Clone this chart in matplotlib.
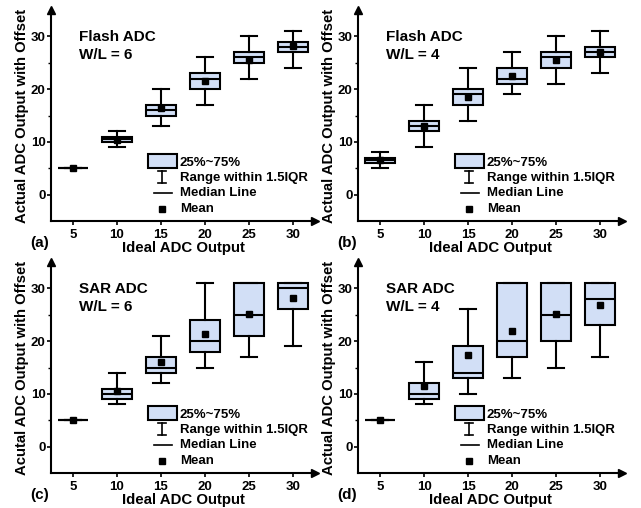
import matplotlib
matplotlib.use("Agg")
import matplotlib.pyplot as plt
from matplotlib.patches import Rectangle
from matplotlib.lines import Line2D

plt.rcParams['font.family'] = ['Liberation Sans', 'DejaVu Sans']
plt.rcParams['font.weight'] = 'bold'

positions = [5, 10, 15, 20, 25, 30]
xtick_labels = ['5', '10', '15', '20', '25', '30']
yticks = [0, 10, 20, 30]

# Panel (a) Flash ADC, W/L = 6
a_whislo = [5, 9, 13, 17, 22, 24]
a_q1 = [5, 10, 15, 20, 25, 27]
a_med = [5, 10.5, 16, 22, 26, 28]
a_q3 = [5, 11, 17, 23, 27, 29]
a_whishi = [5, 12, 20, 26, 30, 31]
a_mean = [5.05, 10.4, 16.4, 21.6, 25.5, 28.2]

# Panel (b) Flash ADC, W/L = 4
b_whislo = [5, 9, 14, 19, 21, 23]
b_q1 = [6, 12, 17, 21, 24, 26]
b_med = [6.5, 13, 19, 22, 26, 27]
b_q3 = [7, 14, 20, 24, 27, 28]
b_whishi = [8, 17, 24, 27, 30, 31]
b_mean = [6.5, 13, 18.6, 22.5, 25.5, 27.1]

# Panel (c) SAR ADC, W/L = 6
c_whislo = [5, 8, 12, 15, 17, 19]
c_q1 = [5, 9, 14, 18, 21, 26]
c_med = [5, 10, 15, 20, 25, 30]
c_q3 = [5, 11, 17, 24, 31, 31]
c_whishi = [5, 14, 21, 31, 31, 31]
c_mean = [5.05, 10.5, 16.1, 21.4, 25.1, 28.2]

# Panel (d) SAR ADC, W/L = 4
d_whislo = [5, 8, 10, 13, 15, 17]
d_q1 = [5, 9, 13, 17, 20, 23]
d_med = [5, 10, 14, 20, 25, 28]
d_q3 = [5, 12, 19, 31, 31, 31]
d_whishi = [5, 16, 26, 31, 31, 31]
d_mean = [5.05, 11.4, 17.4, 22, 25.2, 26.9]

titles = ["Flash ADC\nW/L = 6", "Flash ADC\nW/L = 4", "SAR ADC\nW/L = 6", "SAR ADC\nW/L = 4"]
ylabels = ["Actual ADC Output with Offset", "Actual ADC Output with Offset",
           "Acutal ADC Output with Offset", "Actual ADC Output with Offset"]
panel_tags = ["(a)", "(b)", "(c)", "(d)"]
xlabel = "Ideal ADC Output"
legend_labels = ["25%~75%", "Range within 1.5IQR", "Median Line", "Mean"]

panels = [
    (a_whislo, a_q1, a_med, a_q3, a_whishi, a_mean),
    (b_whislo, b_q1, b_med, b_q3, b_whishi, b_mean),
    (c_whislo, c_q1, c_med, c_q3, c_whishi, c_mean),
    (d_whislo, d_q1, d_med, d_q3, d_whishi, d_mean),
]

W, H = 641, 508
fig = plt.figure(figsize=(W / 100, H / 100), dpi=100)

FILL = '#d2dff6'
LW = 1.5

# axes rectangles in pixels: left, bottom(from top), width, height
ax_px = [(51, 221), (358, 221), (51, 473), (358, 473)]
aw, ah = 264, 211

for i, (whislo, q1, med, q3, whishi, mean) in enumerate(panels):
    left, bottom_top = ax_px[i]
    ax = fig.add_axes([left / W, (H - bottom_top) / H, aw / W, ah / H])
    stats = []
    for j in range(len(positions)):
        stats.append(dict(whislo=whislo[j], q1=q1[j], med=med[j], q3=q3[j],
                          whishi=whishi[j], mean=mean[j]))
    ax.bxp(stats, positions=positions, widths=3.3, capwidths=1.8,
           showmeans=True, showfliers=False, patch_artist=True,
           boxprops=dict(facecolor=FILL, edgecolor='black', linewidth=LW),
           whiskerprops=dict(color='black', linewidth=LW),
           capprops=dict(color='black', linewidth=LW),
           medianprops=dict(color='black', linewidth=LW),
           meanprops=dict(marker='s', markerfacecolor='black', markeredgecolor='black',
                          markersize=4.2))
    ax.set_xlim(2.5, 32.5)
    ax.set_ylim(-5, 35)
    ax.set_xticks(positions)
    ax.set_xticklabels(xtick_labels)
    ax.set_yticks(yticks)
    ax.set_yticks([5, 15, 25], minor=True)
    ax.tick_params(axis='both', which='major', labelsize=9.5, width=1.2, length=3)
    ax.tick_params(axis='y', which='major', pad=1)
    ax.tick_params(axis='x', which='major', pad=3)
    ax.tick_params(axis='y', which='minor', width=1.0, length=2)
    for lab in ax.get_xticklabels() + ax.get_yticklabels():
        lab.set_fontweight('bold')
    for s in ['top', 'right']:
        ax.spines[s].set_visible(False)
    for s in ['left', 'bottom']:
        ax.spines[s].set_linewidth(1.5)
    ax.plot(1, 0, marker='>', color='black', markersize=6, transform=ax.transAxes, clip_on=False)
    ax.plot(0, 1, marker='^', color='black', markersize=6, transform=ax.transAxes, clip_on=False)
    ax.set_xlabel(xlabel, fontsize=10.8, fontweight='bold', labelpad=0)
    ax.set_ylabel(ylabels[i], fontsize=10.7, fontweight='bold', labelpad=1)
    ax.text(0.105, 0.905, titles[i], transform=ax.transAxes, fontsize=11, fontweight='bold',
            va='top', ha='left', linespacing=1.4)
    # panel tag
    ax.text(-0.042, -0.104, panel_tags[i], transform=ax.transAxes, fontsize=11,
            fontweight='bold', va='center', ha='center')
    # manual legend
    T = ax.transAxes
    ax.add_patch(Rectangle((0.368, 0.249), 0.11, 0.07, transform=T, facecolor=FILL,
                           edgecolor='black', linewidth=LW, clip_on=False))
    ax.add_line(Line2D([0.42, 0.42], [0.178, 0.236], transform=T, color='black', linewidth=1.2))
    ax.add_line(Line2D([0.405, 0.435], [0.236, 0.236], transform=T, color='black', linewidth=1.2))
    ax.add_line(Line2D([0.405, 0.435], [0.178, 0.178], transform=T, color='black', linewidth=1.2))
    ax.add_line(Line2D([0.39, 0.458], [0.131, 0.131], transform=T, color='black', linewidth=1.2))
    ax.add_line(Line2D([0.42], [0.057], transform=T, marker='s', color='black', markersize=4,
                       linestyle='none'))
    ys = [0.277, 0.204, 0.131, 0.055]
    for lab, yy in zip(legend_labels, ys):
        ax.text(0.488, yy, lab, transform=T, fontsize=9.5, fontweight='bold',
                va='center', ha='left')

fig.savefig('out.png', dpi=100)
